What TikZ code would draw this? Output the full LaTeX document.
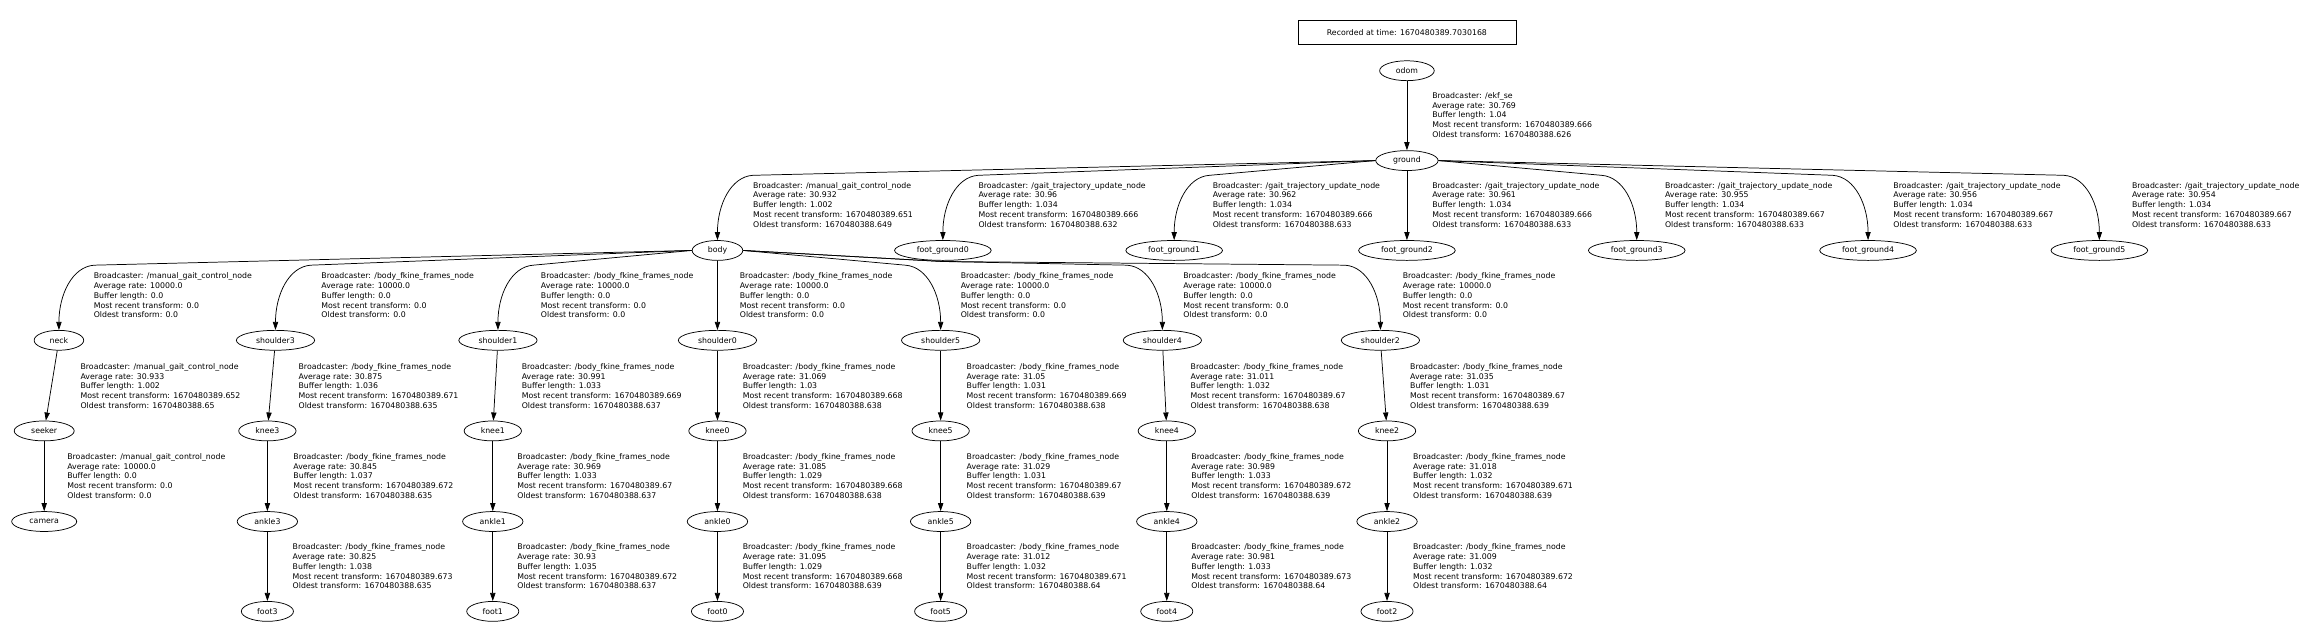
\documentclass[tikz,border=0pt]{standalone}
\usepackage{fontspec}
\setmainfont{DejaVu Sans}
\usepackage{tikz}
\usetikzlibrary{shapes.geometric,arrows.meta,calc}

\newcommand{\tfinfo}[5]{Broadcaster: #1\\Average rate: #2\\Buffer length: #3\\Most recent transform: #4\\Oldest transform: #5}

\begin{document}
\begin{tikzpicture}[x=1pt,y=-1pt,
	frame/.style={ellipse, draw, line width=0.5pt, minimum width=30.5pt, minimum height=13.5pt, inner xsep=5.6pt, inner ysep=0pt, font=\fontsize{5.3}{6.6}\selectfont},
	stamp/.style={rectangle, draw, line width=0.5pt, minimum width=148pt, minimum height=16.5pt, font=\fontsize{5.3}{6.6}\selectfont},
	info/.style={anchor=west, align=left, inner sep=0pt, font=\fontsize{5.3}{6.6}\selectfont},
	tf/.style={line width=0.5pt, -{Triangle[length=5.5pt,width=3.6pt]}},
	dropwest/.style={to path={-- ($(\tikztotarget)+(24,-44)$) .. controls ($(\tikztotarget)+(9,-43)$) and ($(\tikztotarget)+(0,-24)$) .. (\tikztotarget)}},
	dropeast/.style={to path={-- ($(\tikztotarget)+(-24,-44)$) .. controls ($(\tikztotarget)+(-9,-43)$) and ($(\tikztotarget)+(0,-24)$) .. (\tikztotarget)}}]
	\useasboundingbox (0,0) rectangle (1568,435);

	\node[stamp] (stamp) at (955,22) {Recorded at time: 1670480389.7030168};
	\node[frame] (odom) at (955,48) {odom};
	\node[frame] (ground) at (955,109) {ground};

	\node[frame] (body) at (487,170) {body};
	\node[frame] (fg0) at (640,170) {foot\_ground0};
	\node[frame] (fg1) at (797,170) {foot\_ground1};
	\node[frame] (fg2) at (955,170) {foot\_ground2};
	\node[frame] (fg3) at (1111,170) {foot\_ground3};
	\node[frame] (fg4) at (1268,170) {foot\_ground4};
	\node[frame] (fg5) at (1425,170) {foot\_ground5};

	\node[frame] (neck) at (40,231) {neck};
	\node[frame] (shoulder3) at (187,231) {shoulder3};
	\node[frame] (shoulder1) at (338,231) {shoulder1};
	\node[frame] (shoulder0) at (487,231) {shoulder0};
	\node[frame] (shoulder5) at (638.5,231) {shoulder5};
	\node[frame] (shoulder4) at (789,231) {shoulder4};
	\node[frame] (shoulder2) at (937,231) {shoulder2};

	\node[frame] (seeker) at (30,292.5) {seeker};
	\node[frame] (knee3) at (181.5,292.5) {knee3};
	\node[frame] (knee1) at (334.5,292.5) {knee1};
	\node[frame] (knee0) at (487,292.5) {knee0};
	\node[frame] (knee5) at (638.5,292.5) {knee5};
	\node[frame] (knee4) at (792,292.5) {knee4};
	\node[frame] (knee2) at (941.5,292.5) {knee2};

	\node[frame] (camera) at (30,354) {camera};
	\node[frame] (ankle3) at (181.5,354) {ankle3};
	\node[frame] (ankle1) at (334.5,354) {ankle1};
	\node[frame] (ankle0) at (487,354) {ankle0};
	\node[frame] (ankle5) at (638.5,354) {ankle5};
	\node[frame] (ankle4) at (792,354) {ankle4};
	\node[frame] (ankle2) at (941.5,354) {ankle2};

	\node[frame] (foot3) at (181.5,415) {foot3};
	\node[frame] (foot1) at (334.5,415) {foot1};
	\node[frame] (foot0) at (487,415) {foot0};
	\node[frame] (foot5) at (638.5,415) {foot5};
	\node[frame] (foot4) at (792,415) {foot4};
	\node[frame] (foot2) at (941.5,415) {foot2};

	\draw[tf] (odom) -- (ground);
	\draw[tf] (ground.west) to[dropwest] (body.north);
	\draw[tf] (ground.west) to[dropwest] (fg0.north);
	\draw[tf] (ground.west) to[dropwest] (fg1.north);
	\draw[tf] (ground) -- (fg2);
	\draw[tf] (ground.east) to[dropeast] (fg3.north);
	\draw[tf] (ground.east) to[dropeast] (fg4.north);
	\draw[tf] (ground.east) to[dropeast] (fg5.north);

	\draw[tf] (body.west) to[dropwest] (neck.north);
	\draw[tf] (body.west) to[dropwest] (shoulder3.north);
	\draw[tf] (body.west) to[dropwest] (shoulder1.north);
	\draw[tf] (body) -- (shoulder0);
	\draw[tf] (body.east) to[dropeast] (shoulder5.north);
	\draw[tf] (body.east) -- ++(135,7.5) to[dropeast] (shoulder4.north);
	\draw[tf] (body.east) -- ++(135,7.5) to[dropeast] (shoulder2.north);

	\draw[tf] (neck) -- (seeker);
	\draw[tf] (seeker) -- (camera);
	\draw[tf] (shoulder3) -- (knee3);
	\draw[tf] (knee3) -- (ankle3);
	\draw[tf] (ankle3) -- (foot3);
	\draw[tf] (shoulder1) -- (knee1);
	\draw[tf] (knee1) -- (ankle1);
	\draw[tf] (ankle1) -- (foot1);
	\draw[tf] (shoulder0) -- (knee0);
	\draw[tf] (knee0) -- (ankle0);
	\draw[tf] (ankle0) -- (foot0);
	\draw[tf] (shoulder5) -- (knee5);
	\draw[tf] (knee5) -- (ankle5);
	\draw[tf] (ankle5) -- (foot5);
	\draw[tf] (shoulder4) -- (knee4);
	\draw[tf] (knee4) -- (ankle4);
	\draw[tf] (ankle4) -- (foot4);
	\draw[tf] (shoulder2) -- (knee2);
	\draw[tf] (knee2) -- (ankle2);
	\draw[tf] (ankle2) -- (foot2);

	\node[info] (i_ground) at (972,78) {\tfinfo{/ekf\_se}{30.769}{1.04}{1670480389.666}{1670480388.626}};

	\node[info] (i_body) at (511,139) {\tfinfo{/manual\_gait\_control\_node}{30.932}{1.002}{1670480389.651}{1670480388.649}};
	\node[info] (i_fg0) at (664,139) {\tfinfo{/gait\_trajectory\_update\_node}{30.96}{1.034}{1670480389.666}{1670480388.632}};
	\node[info] (i_fg1) at (823,139) {\tfinfo{/gait\_trajectory\_update\_node}{30.962}{1.034}{1670480389.666}{1670480388.633}};
	\node[info] (i_fg2) at (972,139) {\tfinfo{/gait\_trajectory\_update\_node}{30.961}{1.034}{1670480389.666}{1670480388.633}};
	\node[info] (i_fg3) at (1130,139) {\tfinfo{/gait\_trajectory\_update\_node}{30.955}{1.034}{1670480389.667}{1670480388.633}};
	\node[info] (i_fg4) at (1285,139) {\tfinfo{/gait\_trajectory\_update\_node}{30.956}{1.034}{1670480389.667}{1670480388.633}};
	\node[info] (i_fg5) at (1447,139) {\tfinfo{/gait\_trajectory\_update\_node}{30.954}{1.034}{1670480389.667}{1670480388.633}};

	\node[info] (i_neck) at (63.5,200.5) {\tfinfo{/manual\_gait\_control\_node}{10000.0}{0.0}{0.0}{0.0}};
	\node[info] (i_shoulder3) at (218,200.5) {\tfinfo{/body\_fkine\_frames\_node}{10000.0}{0.0}{0.0}{0.0}};
	\node[info] (i_shoulder1) at (367,200.5) {\tfinfo{/body\_fkine\_frames\_node}{10000.0}{0.0}{0.0}{0.0}};
	\node[info] (i_shoulder0) at (502,200.5) {\tfinfo{/body\_fkine\_frames\_node}{10000.0}{0.0}{0.0}{0.0}};
	\node[info] (i_shoulder5) at (652,200.5) {\tfinfo{/body\_fkine\_frames\_node}{10000.0}{0.0}{0.0}{0.0}};
	\node[info] (i_shoulder4) at (803,200.5) {\tfinfo{/body\_fkine\_frames\_node}{10000.0}{0.0}{0.0}{0.0}};
	\node[info] (i_shoulder2) at (952,200.5) {\tfinfo{/body\_fkine\_frames\_node}{10000.0}{0.0}{0.0}{0.0}};

	\node[info] (i_seeker) at (54.5,262) {\tfinfo{/manual\_gait\_control\_node}{30.933}{1.002}{1670480389.652}{1670480388.65}};
	\node[info] (i_knee3) at (202.5,262) {\tfinfo{/body\_fkine\_frames\_node}{30.875}{1.036}{1670480389.671}{1670480388.635}};
	\node[info] (i_knee1) at (354,262) {\tfinfo{/body\_fkine\_frames\_node}{30.991}{1.033}{1670480389.669}{1670480388.637}};
	\node[info] (i_knee0) at (504,262) {\tfinfo{/body\_fkine\_frames\_node}{31.069}{1.03}{1670480389.668}{1670480388.638}};
	\node[info] (i_knee5) at (656,262) {\tfinfo{/body\_fkine\_frames\_node}{31.05}{1.031}{1670480389.669}{1670480388.638}};
	\node[info] (i_knee4) at (808,262) {\tfinfo{/body\_fkine\_frames\_node}{31.011}{1.032}{1670480389.67}{1670480388.638}};
	\node[info] (i_knee2) at (957,262) {\tfinfo{/body\_fkine\_frames\_node}{31.035}{1.031}{1670480389.67}{1670480388.639}};

	\node[info] (i_camera) at (45.5,323) {\tfinfo{/manual\_gait\_control\_node}{10000.0}{0.0}{0.0}{0.0}};
	\node[info] (i_ankle3) at (199,323) {\tfinfo{/body\_fkine\_frames\_node}{30.845}{1.037}{1670480389.672}{1670480388.635}};
	\node[info] (i_ankle1) at (351,323) {\tfinfo{/body\_fkine\_frames\_node}{30.969}{1.033}{1670480389.67}{1670480388.637}};
	\node[info] (i_ankle0) at (504,323) {\tfinfo{/body\_fkine\_frames\_node}{31.085}{1.029}{1670480389.668}{1670480388.638}};
	\node[info] (i_ankle5) at (656,323) {\tfinfo{/body\_fkine\_frames\_node}{31.029}{1.031}{1670480389.67}{1670480388.639}};
	\node[info] (i_ankle4) at (808.5,323) {\tfinfo{/body\_fkine\_frames\_node}{30.989}{1.033}{1670480389.672}{1670480388.639}};
	\node[info] (i_ankle2) at (959,323) {\tfinfo{/body\_fkine\_frames\_node}{31.018}{1.032}{1670480389.671}{1670480388.639}};

	\node[info] (i_foot3) at (198.5,384.5) {\tfinfo{/body\_fkine\_frames\_node}{30.825}{1.038}{1670480389.673}{1670480388.635}};
	\node[info] (i_foot1) at (351,384.5) {\tfinfo{/body\_fkine\_frames\_node}{30.93}{1.035}{1670480389.672}{1670480388.637}};
	\node[info] (i_foot0) at (504,384.5) {\tfinfo{/body\_fkine\_frames\_node}{31.095}{1.029}{1670480389.668}{1670480388.639}};
	\node[info] (i_foot5) at (656,384.5) {\tfinfo{/body\_fkine\_frames\_node}{31.012}{1.032}{1670480389.671}{1670480388.64}};
	\node[info] (i_foot4) at (808.5,384.5) {\tfinfo{/body\_fkine\_frames\_node}{30.981}{1.033}{1670480389.673}{1670480388.64}};
	\node[info] (i_foot2) at (959,384.5) {\tfinfo{/body\_fkine\_frames\_node}{31.009}{1.032}{1670480389.672}{1670480388.64}};
\end{tikzpicture}
\end{document}
